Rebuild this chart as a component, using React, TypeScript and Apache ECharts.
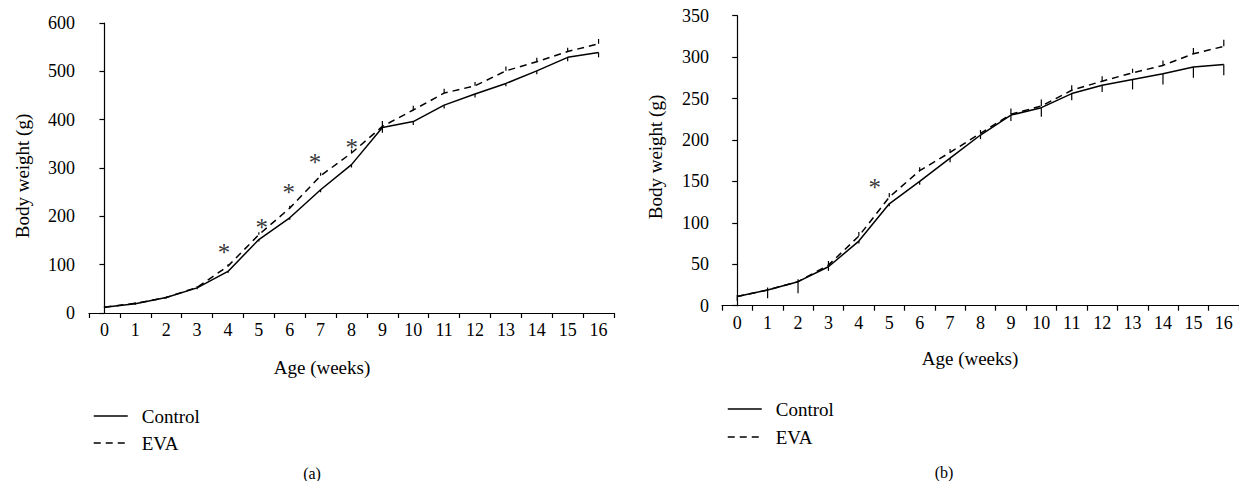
import React, { useEffect, useRef } from "react";
import * as echarts from "echarts";

const weeks = ["0","1","2","3","4","5","6","7","8","9","10","11","12","13","14","15","16"];

const controlA = [12, 19, 32, 52, 86, 152, 197, 255, 307, 384, 396, 430, 453, 475, 501, 529, 539];
const evaA = [12, 20, 32, 53, 97, 162, 217, 284, 331, 386, 420, 455, 470, 501, 520, 541, 557];
const controlAErr = [2, 2, 2, 3, 3, 4, 4, 5, 6, 11, 7, 7, 7, 6, 7, 8, 10];
const evaAErr = [2, 2, 2, 3, 4, 5, 5, 6, 7, 11, 9, 9, 8, 9, 8, 8, 10];

const controlB = [11, 19, 29, 47, 78, 123, 150, 178, 206, 230, 239, 256, 266, 273, 280, 288, 291];
const evaB = [11, 19, 29, 49, 84, 131, 163, 185, 208, 231, 241, 260, 271, 281, 290, 304, 313];
const controlBErr = [5, 10, 14, 5, 3, 3, 4, 5, 5, 7, 11, 8, 8, 12, 13, 13, 13];
const evaBErr = [2, 3, 3, 5, 5, 5, 4, 4, 4, 7, 8, 6, 6, 5, 6, 7, 8];

const starsAX = [3.87, 5.09, 5.97, 6.82, 8.01];
const starsAY = [137, 189, 261, 323, 354];
const starsBX = [4.52];
const starsBY = [150];

const FONT = "Liberation Serif";

function errData(vals: number[], errs: number[], dir: number) {
  return vals.map((v, i) => [i, v, errs[i], dir]);
}

const renderErr = (params: any, api: any) => {
  const x = api.value(0);
  const y = api.value(1);
  const e = api.value(2);
  const d = api.value(3);
  const p1 = api.coord([x, y]);
  const p2 = api.coord([x, y + d * e]);
  return {
    type: "line",
    shape: { x1: p1[0], y1: p1[1], x2: p2[0], y2: p2[1] },
    style: { stroke: "#000", lineWidth: 1.2 },
  };
};

export default function App() {
  const ref = useRef<HTMLDivElement>(null);
  useEffect(() => {
    if (!ref.current) return;
    const chart = echarts.init(ref.current, null, { renderer: "svg" });
    const axisLine = { show: true, lineStyle: { color: "#000", width: 1.2 } };
    const axisTick = { show: true, length: 5, lineStyle: { color: "#000", width: 1.2 } };
    const catAxis = (gi: number) => ({
      type: "category",
      gridIndex: gi,
      data: weeks,
      boundaryGap: true,
      axisLine,
      axisTick: { ...axisTick, alignWithLabel: false, interval: 0 },
      axisLabel: {
        show: true,
        color: "#000",
        fontFamily: FONT,
        fontSize: 18,
        margin: 8,
        interval: 0,
      },
      splitLine: { show: false },
    });
    const valXAxis = (gi: number) => ({
      type: "value",
      gridIndex: gi,
      min: -0.5,
      max: 16.5,
      show: false,
    });
    const yAxis = (gi: number, max: number, interval: number, margin: number) => ({
      type: "value",
      gridIndex: gi,
      min: 0,
      max,
      interval,
      axisLine,
      axisTick,
      axisLabel: {
        show: true,
        color: "#000",
        fontFamily: FONT,
        fontSize: 18,
        margin,
      },
      splitLine: { show: false },
    });
    const lineS = (name: string, xi: number, yi: number, data: number[], dashed: boolean) => ({
      name,
      type: "line",
      xAxisIndex: xi,
      yAxisIndex: yi,
      data,
      symbol: "none",
      smooth: false,
      lineStyle: { color: "#000", width: 1.5, type: dashed ? [7, 5] : "solid" },
      itemStyle: { color: "#000" },
      z: 3,
    });
    const errS = (xi: number, yi: number, data: any[]) => ({
      type: "custom",
      xAxisIndex: xi,
      yAxisIndex: yi,
      renderItem: renderErr,
      data,
      encode: { x: 0, y: 1 },
      z: 4,
    });
    const starS = (xi: number, yi: number, xs: number[], ys: number[]) => ({
      type: "scatter",
      xAxisIndex: xi,
      yAxisIndex: yi,
      data: xs.map((x, i) => [x, ys[i]]),
      symbolSize: 1,
      itemStyle: { color: "rgba(0,0,0,0)" },
      label: {
        show: true,
        position: "inside",
        formatter: "*",
        color: "#000",
        fontFamily: FONT,
        fontSize: 25,
        offset: [0, 6],
      },
      z: 5,
    });
    const legend = (left: number, top: number, gap: number) => ({
      left,
      top,
      orient: "vertical",
      itemWidth: 34,
      itemHeight: 14,
      itemGap: gap,
      data: ["Control", "EVA"],
      itemStyle: { color: "rgba(0,0,0,0)", borderWidth: 0, opacity: 0 },
      lineStyle: { width: 1.5, color: "#000" },
      textStyle: { color: "#000", fontFamily: FONT, fontSize: 19, lineHeight: 20, padding: [0, 0, 0, 9] },
      selectedMode: false,
    });
    const text = (x: number, y: number, t: string, size: number, rot = 0) => ({
      type: "text",
      x,
      y,
      rotation: rot,
      style: {
        text: t,
        fill: "#000",
        font: `${size}px "${FONT}"`,
        textAlign: "center",
        textVerticalAlign: "middle",
      },
    });
    chart.setOption({
      animation: false,
      backgroundColor: "#fff",
      textStyle: { fontFamily: FONT, fontSize: 18, color: "#000" },
      grid: [
        { left: 89, top: 23, width: 525, height: 290, containLabel: false },
        { left: 722, top: 15.7, width: 524, height: 290, containLabel: false },
      ],
      xAxis: [catAxis(0), catAxis(1), valXAxis(0), valXAxis(1)],
      yAxis: [yAxis(0, 600, 100, 14), yAxis(1, 350, 50, 13)],
      legend: [legend(88, 401, 7), legend(722, 394, 8)],
      series: [
        lineS("Control", 0, 0, controlA, false),
        lineS("EVA", 0, 0, evaA, true),
        errS(0, 0, errData(controlA, controlAErr, -1)),
        errS(0, 0, errData(evaA, evaAErr, 1)),
        starS(2, 0, starsAX, starsAY),
        lineS("Control", 1, 1, controlB, false),
        lineS("EVA", 1, 1, evaB, true),
        errS(1, 1, errData(controlB, controlBErr, -1)),
        errS(1, 1, errData(evaB, evaBErr, 1)),
        starS(3, 1, starsBX, starsBY),
      ],
      graphic: [
        text(22, 176, "Body weight (g)", 19, Math.PI / 2),
        text(655, 157, "Body weight (g)", 19, Math.PI / 2),
        text(322, 367, "Age (weeks)", 19),
        text(970, 358, "Age (weeks)", 19),
        text(312, 473, "(a)", 16),
        text(944, 472, "(b)", 16),
      ],
    });
    return () => chart.dispose();
  }, []);
  return (
    <div
      ref={ref}
      style={{ position: "fixed", left: 0, top: 0, width: 1239, height: 481 }}
    />
  );
}
